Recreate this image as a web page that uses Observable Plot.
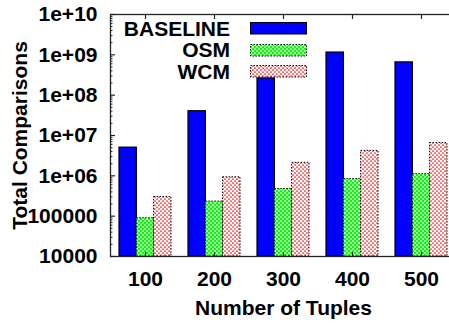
<!DOCTYPE html>
<html><head><meta charset="utf-8">
<script src="https://cdn.jsdelivr.net/npm/d3@7"></script>
<script src="https://cdn.jsdelivr.net/npm/@observablehq/plot@0.6"></script>
<style>
body{margin:0;background:#fff;overflow:hidden}
#wrap{position:relative;width:449px;height:330px;overflow:hidden;background:#fff}
#wrap svg.plotsvg{max-width:none !important;display:block}
#legend{position:absolute;left:90px;top:17.75px;font-family:'Liberation Sans',Arial,sans-serif;font-weight:bold;font-size:21px;color:#000}
#legend .row{display:flex;align-items:center;height:21.5px;line-height:21.5px}
#legend .lab{width:140px;text-align:right}
#legend svg{margin-left:20px;display:block}
</style></head><body><div id="wrap"><div id="legend"></div></div>
<script>
const tuples = ["100", "200", "300", "400", "500"];
const series = ["BASELINE", "OSM", "WCM"];
const baseline = [5.0e6, 4.0e7, 2.6e8, 1.14e9, 6.5e8];
const osm = [8.9e4, 2.3e5, 4.7e5, 8.3e5, 1.1e6];
const wcm = [3.0e5, 9.2e5, 2.1e6, 4.15e6, 6.5e6];
const yTicks = [1e4, 1e5, 1e6, 1e7, 1e8, 1e9, 1e10];
const yTickLabels = ["10000", "100000", "1e+06", "1e+07", "1e+08", "1e+09", "1e+10"];
const fills = ["#0000ff", "url(#osmPat)", "url(#wcmPat)"];

const values = [baseline, osm, wcm];
const rows = [];
series.forEach((s, si) => tuples.forEach((t, ti) => rows.push({tuples: t, series: s, value: values[si][ti]})));
const minorTicks = [];
yTicks.slice(0, -1).forEach(d => { for (let k = 2; k <= 9; k++) minorTicks.push(d * k); });

const W = 456, H = 330, mL = 110, mT = 14, mB = 74;
const xOpts = {type: "band", domain: tuples, paddingInner: 0.25, paddingOuter: 0.125};
const bw = Plot.scale({x: {...xOpts, range: [mL, W]}}).bandwidth;
const third = bw / 3;
const yMin = yTicks[0];

const barMarks = series.map((s, si) => Plot.barY(rows.filter(r => r.series === s), {
  x: "tuples", y1: () => yMin, y2: "value",
  fill: fills[si],
  stroke: "#000",
  strokeWidth: si === 0 ? 1.2 : 1,
  strokeDasharray: si === 0 ? null : "1.5,1.5",
  insetLeft: si * third,
  insetRight: (2 - si) * third
}));

const fig = Plot.plot({
  width: W, height: H,
  marginLeft: mL, marginRight: 0, marginTop: mT, marginBottom: mB,
  style: {fontFamily: "'Liberation Sans', Arial, sans-serif", fontSize: "21px", fontWeight: "bold", color: "#000", background: "#fff"},
  x: {...xOpts},
  y: {type: "log", domain: [yTicks[0], yTicks[yTicks.length - 1]]},
  marks: [
    ...barMarks,
    Plot.axisY(minorTicks, {tickSize: -2.5, fill: "none", stroke: "#333", strokeWidth: 1}),
    Plot.axisY(yTicks, {tickSize: -5, fill: "none", stroke: "#222", strokeWidth: 1.2}),
    Plot.axisY(yTicks, {tickSize: 0, tickPadding: 13, tickFormat: d => yTickLabels[yTicks.indexOf(d)],
      label: "Total Comparisons", labelOffset: 98, labelArrow: false, labelAnchor: "center"}),
    Plot.axisX({anchor: "top", tickSize: -4, fill: "none", stroke: "#222", strokeWidth: 1.2}),
    Plot.axisX({anchor: "bottom", tickSize: -4, fill: "none", stroke: "#222", strokeWidth: 1.2}),
    Plot.axisX({anchor: "bottom", tickSize: 0, tickPadding: 15, label: "Number of Tuples", labelOffset: 58, labelArrow: false, labelAnchor: "center"}),
    Plot.frame({stroke: "#222", strokeWidth: 1.3})
  ]
});
fig.classList.add("plotsvg");

const defs = d3.select(fig).insert("defs", ":first-child");
const p1 = defs.append("pattern").attr("id", "osmPat").attr("patternUnits", "userSpaceOnUse").attr("width", 4).attr("height", 4);
p1.append("rect").attr("width", 4).attr("height", 4).attr("fill", "#00ff00");
p1.append("circle").attr("cx", 1).attr("cy", 1).attr("r", 0.95).attr("fill", "#fff");
p1.append("circle").attr("cx", 3).attr("cy", 3).attr("r", 0.95).attr("fill", "#fff");
const p2 = defs.append("pattern").attr("id", "wcmPat").attr("patternUnits", "userSpaceOnUse").attr("width", 4).attr("height", 4);
p2.append("rect").attr("width", 4).attr("height", 4).attr("fill", "#fff");
p2.append("circle").attr("cx", 1).attr("cy", 3).attr("r", 0.85).attr("fill", "#ff0000");
p2.append("circle").attr("cx", 3).attr("cy", 1).attr("r", 0.85).attr("fill", "#ff0000");

const wrap = document.getElementById("wrap");
wrap.insertBefore(fig, wrap.firstChild);

const legend = d3.select("#legend");
series.forEach((s, si) => {
  const row = legend.append("div").attr("class", "row");
  row.append("div").attr("class", "lab").text(s);
  const sw = row.append("svg").attr("width", 57).attr("height", 13);
  sw.append("rect").attr("x", 0.5).attr("y", 0.5).attr("width", 56).attr("height", 11.5)
    .attr("fill", fills[si]).attr("stroke", "#000").attr("stroke-width", 1)
    .attr("stroke-dasharray", si === 0 ? null : "1.5,1.5");
});
</script></body></html>
